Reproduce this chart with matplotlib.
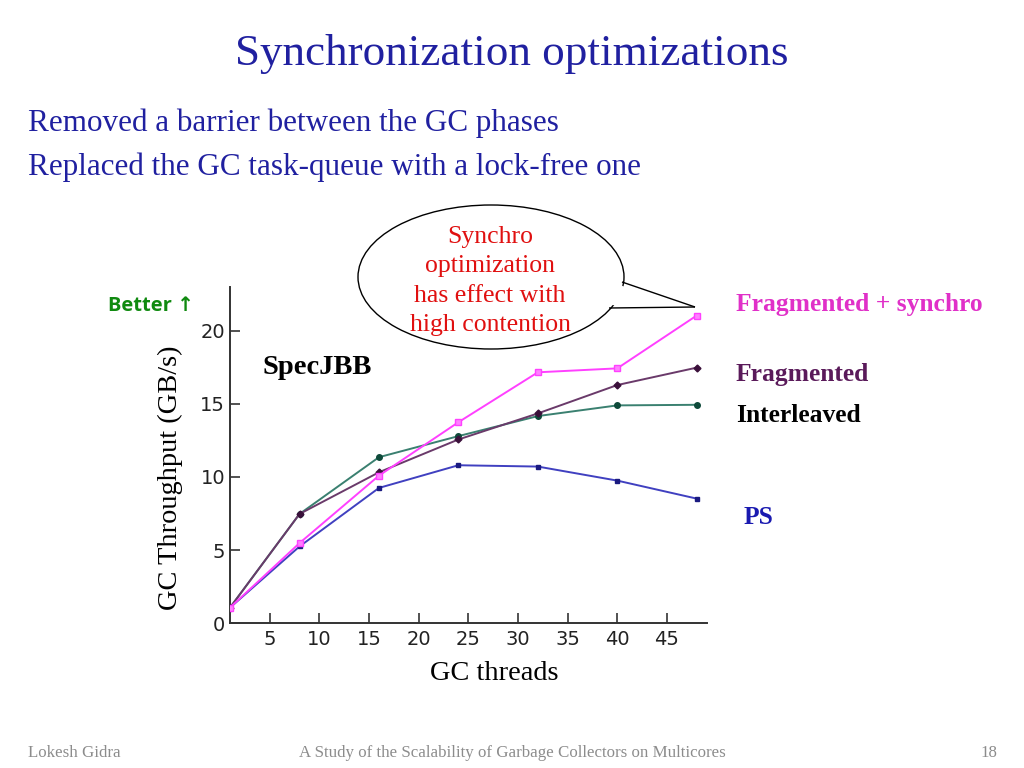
import matplotlib
matplotlib.use("Agg")
import matplotlib.pyplot as plt
from matplotlib.patches import Ellipse, Polygon

# data
threads = [1, 8, 16, 24, 32, 40, 48]
frag_synchro = [1.07, 5.48, 10.09, 13.74, 17.15, 17.42, 21.03]
fragmented = [1.07, 7.47, 10.32, 12.56, 14.34, 16.28, 17.47]
interleaved = [1.07, 7.47, 11.35, 12.79, 14.16, 14.89, 14.93]
ps = [1.07, 5.25, 9.25, 10.80, 10.71, 9.75, 8.52]

xticks = [5, 10, 15, 20, 25, 30, 35, 40, 45]
yticks = [0, 5, 10, 15, 20]

serif = "Liberation Serif"
title_blue = "#2020A0"

fig = plt.figure(figsize=(10.24, 7.68), dpi=100)

# chart
ax = fig.add_axes([0.2246, 0.1884, 0.4655, 0.4383])
ax.plot(threads, fragmented, color="#6A3A6A", lw=1.4, marker="D", ms=3.5,
        mfc="#3A103A", mec="#3A103A", zorder=3)
ax.plot(threads, interleaved, color="#3A8070", lw=1.4, marker="o", ms=4,
        mfc="#0E4A3A", mec="#0E4A3A", zorder=2)
ax.plot(threads, ps, color="#4040C0", lw=1.4, marker="s", ms=3.5,
        mfc="#1A1A80", mec="#1A1A80", zorder=2)
ax.plot(threads, frag_synchro, color="#FF40FF", lw=1.4, marker="s", ms=4.5,
        mfc="#FF80FF", mec="#FF40FF", zorder=4)

ax.set_xlim(1, 49)
ax.set_ylim(0, 23)
ax.set_xticks(xticks)
ax.set_yticks(yticks)
ax.tick_params(direction="in", length=7, width=1.2, colors="#333333",
               labelsize=14, labelcolor="#222222")
ax.tick_params(axis="x", pad=5)
for s in ["top", "right"]:
    ax.spines[s].set_visible(False)
for s in ["left", "bottom"]:
    ax.spines[s].set_color("#333333")
    ax.spines[s].set_linewidth(1.4)
ax.patch.set_alpha(0)

# overlay in pixel coordinates for slide text and callout
ov = fig.add_axes([0, 0, 1, 1], zorder=5)
ov.set_xlim(0, 1024)
ov.set_ylim(768, 0)
ov.axis("off")
ov.patch.set_alpha(0)

ov.text(512, 54, "Synchronization optimizations", family=serif, fontsize=32.5,
        color=title_blue, ha="center", va="center")
ov.text(28, 123, "Removed a barrier between the GC phases", family=serif,
        fontsize=22.4, color=title_blue, ha="left", va="center")
ov.text(28, 167, "Replaced the GC task-queue with a lock-free one", family=serif,
        fontsize=22.4, color=title_blue, ha="left", va="center")

# speech bubble
ov.add_patch(Ellipse((491, 277), 266, 144, facecolor="white",
                     edgecolor="black", lw=1.0, zorder=1))
ov.add_patch(Polygon([(619, 285), (695, 307), (607, 305)], closed=True,
                     facecolor="white", edgecolor="none", zorder=2))
ov.plot([622, 695], [282, 307], color="black", lw=1.0, zorder=3,
        solid_capstyle="butt")
ov.plot([609, 695], [308, 307], color="black", lw=1.0, zorder=3,
        solid_capstyle="butt")
ov.text(490, 281, "Synchro\noptimization\nhas effect with\nhigh contention",
        family=serif, fontsize=18.5, color="#E01010", ha="center", va="center",
        linespacing=1.45, zorder=4)

ov.text(108, 306, "Better \u2191", family=["Open Sans", "DejaVu Sans"],
        fontsize=14.5, fontweight="bold", color="#108A10", ha="left",
        va="center")
ov.text(263, 368, "SpecJBB", family=serif, fontsize=20.5, fontweight="bold",
        color="black", ha="left", va="center")

ov.text(736, 305, "Fragmented + synchro", family=serif, fontsize=18.4,
        fontweight="bold", color="#E030C8", ha="left", va="center")
ov.text(736, 374, "Fragmented", family=serif, fontsize=18.4,
        fontweight="bold", color="#5A1A5A", ha="left", va="center")
ov.text(736, 416, "Interleaved", family=serif, fontsize=18.4,
        fontweight="bold", color="black", ha="left", va="center")
ov.text(744, 518, "PS", family=serif, fontsize=18.4,
        fontweight="bold", color="#1A1AB0", ha="left", va="center")

ov.text(170, 478, "GC Throughput (GB/s)", family=serif, fontsize=20.4,
        rotation=90, ha="center", va="center", color="black")
ov.text(494, 674, "GC threads", family=serif, fontsize=20.4,
        ha="center", va="center", color="black")

# footer
ov.text(28, 753, "Lokesh Gidra", family=serif, fontsize=12.2,
        color="#8C8C8C", ha="left", va="center")
ov.text(512, 753, "A Study of the Scalability of Garbage Collectors on Multicores",
        family=serif, fontsize=12.2, color="#8C8C8C", ha="center", va="center")
ov.text(997, 753, "18", family=serif, fontsize=12.2, color="#8C8C8C",
        ha="right", va="center")

fig.savefig("out.png", dpi=100)
